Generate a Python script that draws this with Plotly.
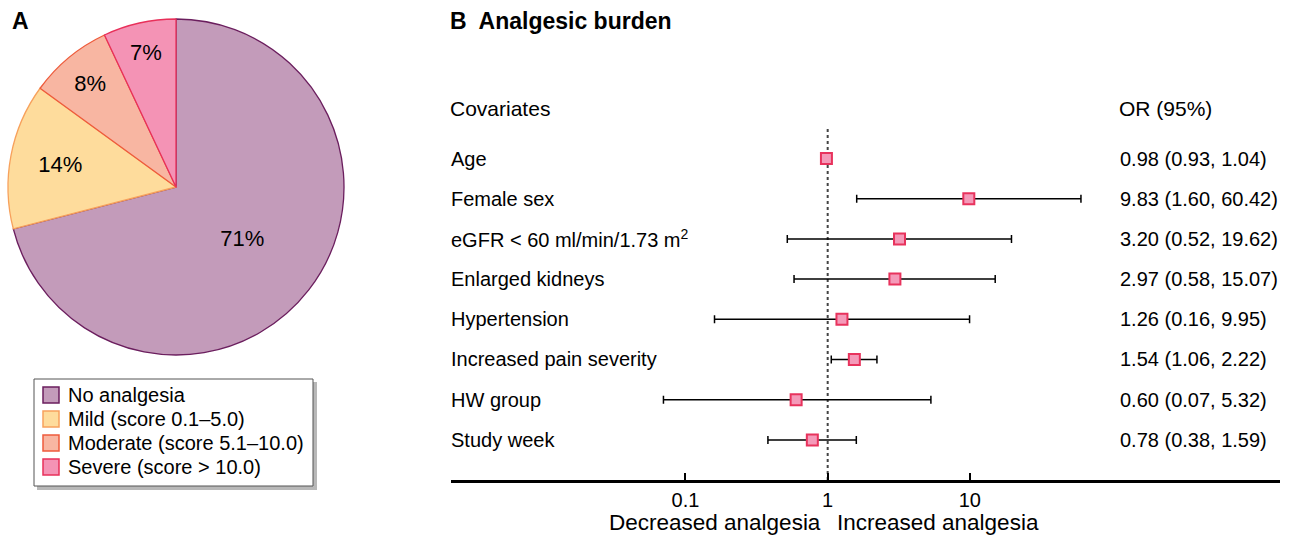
import plotly.graph_objects as go

# panel A - analgesic use categories
pie_labels = ["No analgesia", "Mild (score 0.1–5.0)", "Moderate (score 5.1–10.0)", "Severe (score &gt; 10.0)"]
pie_values = [71, 14, 8, 7]
pie_fill = ["#C39BBA", "#FEDC9C", "#F8B6A2", "#F493B5"]
pie_edge = ["#6B1E5E", "#F7A15C", "#EE5B3C", "#E8305A"]

# panel B - odds ratios
covariates = ["Age", "Female sex", "eGFR &lt; 60 ml/min/1.73 m<sup>2</sup>", "Enlarged kidneys",
              "Hypertension", "Increased pain severity", "HW group", "Study week"]
odds = [0.98, 9.83, 3.20, 2.97, 1.26, 1.54, 0.60, 0.78]
ci_low = [0.93, 1.60, 0.52, 0.58, 0.16, 1.06, 0.07, 0.38]
ci_high = [1.04, 60.42, 19.62, 15.07, 9.95, 2.22, 5.32, 1.59]
tick_vals = [0.1, 1, 10]
tick_text = ["0.1", "1", "10"]

W, H = 1289, 537
font = "Liberation Sans, Arial, sans-serif"
rows = list(range(len(covariates)))

def px(x):
    return x / W

def py(y):
    return 1 - y / H

fig = go.Figure()

fig.add_trace(go.Pie(labels = pie_labels,
                     values = pie_values,
                     sort = False,
                     direction = 'clockwise',
                     rotation = 0,
                     showlegend = False,
                     texttemplate = '%{value}%',
                     textposition = 'inside',
                     insidetextorientation = 'horizontal',
                     textfont = dict(size = 22, color = 'black', family = font),
                     marker = dict(colors = pie_fill,
                                   line = dict(color = pie_edge, width = 1.3)),
                     hoverinfo = 'label+percent',
                     domain = dict(x = [px(8), px(344)], y = [py(355), py(19)])))

fig.add_trace(go.Scatter(x = odds,
                         y = rows,
                         mode = 'markers',
                         showlegend = False,
                         marker = dict(symbol = 'square', size = 11, color = '#F49AB9',
                                       line = dict(color = '#E8335D', width = 2)),
                         error_x = dict(type = 'data', symmetric = False,
                                        array = [h - o for h, o in zip(ci_high, odds)],
                                        arrayminus = [o - l for o, l in zip(odds, ci_low)],
                                        color = 'black', thickness = 1.5, width = 4)))

# reference line at OR = 1
fig.add_shape(type = 'line', xref = 'x', yref = 'y domain', x0 = 1, x1 = 1, y0 = 0, y1 = 1,
              line = dict(color = '#444444', width = 2, dash = 'dot'), layer = 'below')

# hand-made legend for the pie: shadow, box, swatches
fig.add_shape(type = 'rect', xref = 'paper', yref = 'paper',
              x0 = px(37), x1 = px(317), y0 = py(490), y1 = py(382),
              line = dict(width = 0), fillcolor = '#B8B8B8')
fig.add_shape(type = 'rect', xref = 'paper', yref = 'paper',
              x0 = px(34), x1 = px(313), y0 = py(486), y1 = py(379),
              line = dict(color = '#555555', width = 1), fillcolor = 'white')

annotations = []
for i, lab in enumerate(pie_labels):
    yc = 395 + 24 * i
    fig.add_shape(type = 'rect', xref = 'paper', yref = 'paper',
                  x0 = px(43), x1 = px(59), y0 = py(yc + 8), y1 = py(yc - 8),
                  line = dict(color = pie_edge[i], width = 1.5), fillcolor = pie_fill[i])
    annotations.append(dict(text = lab, xref = 'paper', yref = 'paper', x = px(66), y = py(yc),
                            xanchor = 'left', yanchor = 'middle', showarrow = False,
                            font = dict(size = 20, color = 'black')))

for i, lab in enumerate(covariates):
    annotations.append(dict(text = lab, xref = 'paper', yref = 'y', x = px(449), y = i,
                            xanchor = 'left', yanchor = 'middle', showarrow = False,
                            font = dict(size = 20, color = 'black')))
    annotations.append(dict(text = f"{odds[i]:.2f} ({ci_low[i]:.2f}, {ci_high[i]:.2f})",
                            xref = 'paper', yref = 'y', x = px(1118), y = i,
                            xanchor = 'left', yanchor = 'middle', showarrow = False,
                            font = dict(size = 20, color = 'black')))

headers = [
    dict(text = "Covariates", x = px(448), y = py(108), font = dict(size = 21, color = 'black')),
    dict(text = "OR (95%)", x = px(1117), y = py(108), font = dict(size = 21, color = 'black')),
    dict(text = "<b>A</b>", x = px(10), y = py(21), font = dict(size = 23, color = 'black')),
    dict(text = "<b>B  Analgesic burden</b>", x = px(448), y = py(21), font = dict(size = 23, color = 'black')),
]
for a in headers:
    a.update(xref = 'paper', yref = 'paper', xanchor = 'left', yanchor = 'middle', showarrow = False)
annotations += headers

annotations += [
    dict(text = "Decreased analgesia", xref = 'x', yref = 'paper', x = 0, y = py(522),
         xanchor = 'right', xshift = -5, yanchor = 'middle', showarrow = False,
         font = dict(size = 22.5, color = 'black')),
    dict(text = "Increased analgesia", xref = 'x', yref = 'paper', x = 0, y = py(522),
         xanchor = 'left', xshift = 7, yanchor = 'middle', showarrow = False,
         font = dict(size = 22.5, color = 'black')),
]

fig.update_layout(width = W, height = H,
                  margin = dict(l = 0, r = 0, t = 0, b = 0),
                  paper_bgcolor = 'white',
                  plot_bgcolor = 'white',
                  font = dict(family = font, color = 'black'),
                  uniformtext = dict(minsize = 22, mode = 'show'),
                  annotations = annotations,
                  showlegend = False)

fig.update_xaxes(type = 'log',
                 domain = [px(451), px(1280)],
                 range = [-2.649, 3.181],
                 showline = True,
                 linecolor = 'black',
                 linewidth = 2.5,
                 showgrid = False,
                 zeroline = False,
                 ticks = 'inside',
                 ticklen = 7,
                 tickwidth = 2,
                 tickcolor = 'black',
                 tickvals = tick_vals,
                 ticktext = tick_text,
                 ticklabelstandoff = 0,
                 tickfont = dict(size = 20, color = 'black'),
                 anchor = 'y')

fig.update_yaxes(domain = [py(480), py(127)],
                 range = [7.998, -0.784],
                 visible = False,
                 showgrid = False,
                 zeroline = False)

# drop the default page margin so the figure sits at the window's corner
fig.write_html("out.html", config = {'displayModeBar': False},
               post_script = "document.body.style.margin = '0px';")
